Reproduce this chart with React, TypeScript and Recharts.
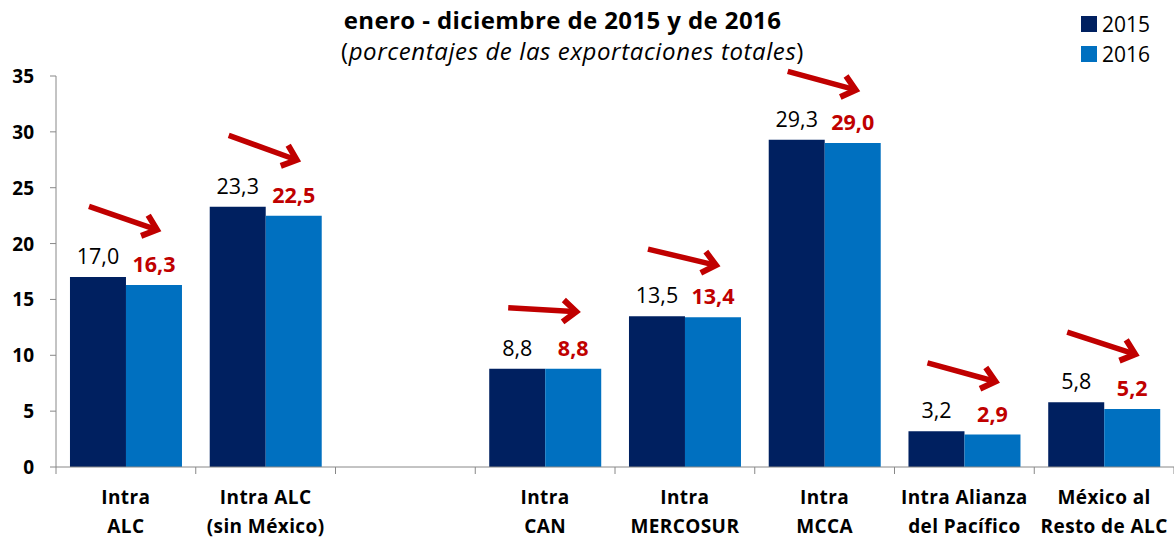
import React from 'react';
import { BarChart, Bar, XAxis, YAxis, LabelList } from 'recharts';

const categories = [
  'Intra\nALC',
  'Intra ALC\n(sin México)',
  '',
  'Intra\nCAN',
  'Intra\nMERCOSUR',
  'Intra\nMCCA',
  'Intra Alianza\ndel Pacífico',
  'México al\nResto de ALC',
];
const values2015 = [17.0, 23.3, null, 8.8, 13.5, 29.3, 3.2, 5.8];
const values2016 = [16.3, 22.5, null, 8.8, 13.4, 29.0, 2.9, 5.2];
const yTicks = [0, 5, 10, 15, 20, 25, 30, 35];

const data = categories.map((name, i) => ({
  name,
  y2015: values2015[i],
  y2016: values2016[i],
}));

const FONT = '"Open Sans", Lato, sans-serif';
const DARK = '#002060';
const LIGHT = '#0070C0';
const RED = '#C00000';

const fmt = (v: number) => v.toFixed(1).replace('.', ',');

const XTick = ({ x, y, payload, index }: any) => {
  const off = payload.offset || 0;
  const lines = String(payload.value).split('\n');
  return (
    <g>
      <line x1={x - off} y1={y - 8} x2={x - off} y2={y - 1} stroke="#888" />
      {index === categories.length - 1 && (
        <line x1={x + off} y1={y - 8} x2={x + off} y2={y - 1} stroke="#888" />
      )}
      {lines.map((l: string, i: number) => (
        <text
          key={i}
          x={x}
          y={y + 29 + i * 29}
          textAnchor="middle"
          fontFamily={FONT}
          fontWeight="bold"
          fontSize={19}
          letterSpacing={0.4}
          fill="#000"
        >
          {l}
        </text>
      ))}
    </g>
  );
};

const YTick = ({ x, y, payload }: any) => (
  <text x={x - 14} y={y + 7} textAnchor="end" fontFamily={FONT} fontWeight="bold" fontSize={19} fill="#000">
    {payload.value}
  </text>
);

// value comes in as "v2015|v2016" so the arrow slope can follow the change
const Label2015 = ({ x, y, width, value }: any) => {
  if (value == null) return null;
  const [a, b] = String(value).split('|').map(Number);
  const diff = a - b;
  const drop = diff > 0.05 ? 15 + 12 * diff : 4;
  const sx = x + 19;
  const tx = x + 87;
  const sy = y - 59 - drop / 2;
  const ty = y - 59 + drop / 2;
  const dx = tx - sx;
  const dy = ty - sy;
  const len = Math.sqrt(dx * dx + dy * dy);
  const ux = dx / len;
  const uy = dy / len;
  const arm = 17;
  const ang = (40 * Math.PI) / 180;
  const c = Math.cos(ang);
  const s = Math.sin(ang);
  const ax1 = tx + arm * (-ux * c + uy * s);
  const ay1 = ty + arm * (-ux * s - uy * c);
  const ax2 = tx + arm * (-ux * c - uy * s);
  const ay2 = ty + arm * (ux * s - uy * c);
  return (
    <g>
      <text x={x + width / 2} y={y - 13} textAnchor="middle" fontFamily={FONT} fontSize={21.5} fill="#000">
        {fmt(a)}
      </text>
      <line x1={sx} y1={sy} x2={tx - ux * 3} y2={ty - uy * 3} stroke={RED} strokeWidth={5.5} />
      <polyline
        points={`${ax1},${ay1} ${tx},${ty} ${ax2},${ay2}`}
        fill="none"
        stroke={RED}
        strokeWidth={6}
        strokeLinejoin="miter"
      />
    </g>
  );
};

const Label2016 = ({ x, y, width, value }: any) => {
  if (value == null) return null;
  return (
    <text
      x={x + width / 2}
      y={y - 13}
      textAnchor="middle"
      fontFamily={FONT}
      fontWeight="bold"
      fontSize={21.5}
      fill={RED}
    >
      {fmt(value)}
    </text>
  );
};

export default function App() {
  return (
    <div style={{ position: 'absolute', left: 0, top: 0, width: 1174, height: 538, background: '#fff', fontFamily: FONT }}>
      <div style={{ position: 'absolute', left: 0, width: 1125, top: 3, textAlign: 'center', fontWeight: 'bold', fontSize: 24, letterSpacing: 0.4 }}>
        enero - diciembre de 2015 y de 2016
      </div>
      <div style={{ position: 'absolute', left: 0, width: 1145, top: 34, textAlign: 'center', fontSize: 24, letterSpacing: 0.6 }}>
        (<i>porcentajes de las exportaciones totales</i>)
      </div>
      <div style={{ position: 'absolute', left: 1081, top: 9, fontSize: 21, lineHeight: '30px' }}>
        <div style={{ display: 'flex', alignItems: 'center' }}>
          <span style={{ width: 16, height: 16, background: DARK, display: 'inline-block', marginRight: 5 }} />
          2015
        </div>
        <div style={{ display: 'flex', alignItems: 'center' }}>
          <span style={{ width: 16, height: 16, background: LIGHT, display: 'inline-block', marginRight: 5 }} />
          2016
        </div>
      </div>
      <div style={{ position: 'absolute', left: 0, top: 0 }}>
        <BarChart
          width={1174}
          height={538}
          data={data}
          margin={{ top: 76, right: 0, bottom: 0, left: 0 }}
          barCategoryGap="10%"
          barGap={0}
        >
          <XAxis
            dataKey="name"
            interval={0}
            tickLine={false}
            axisLine={{ stroke: '#888' }}
            tick={<XTick />}
            height={71}
          />
          <YAxis
            domain={[0, 35]}
            ticks={yTicks}
            width={56}
            tickSize={6}
            tickLine={{ stroke: '#888' }}
            axisLine={{ stroke: '#888' }}
            tick={<YTick />}
          />
          <Bar dataKey="y2015" fill={DARK} isAnimationActive={false}>
            <LabelList
              dataKey={(d: any) => (d.y2015 == null ? null : `${d.y2015}|${d.y2016}`)}
              content={<Label2015 />}
            />
          </Bar>
          <Bar dataKey="y2016" fill={LIGHT} isAnimationActive={false}>
            <LabelList dataKey="y2016" content={<Label2016 />} />
          </Bar>
        </BarChart>
      </div>
    </div>
  );
}
